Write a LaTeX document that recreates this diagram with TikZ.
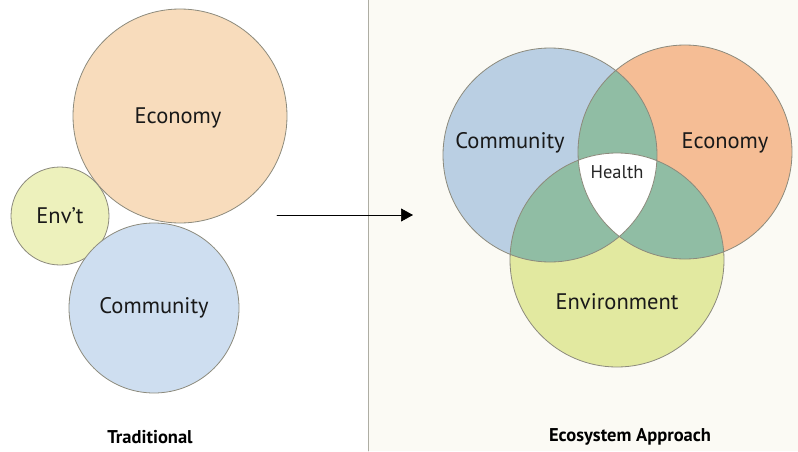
\documentclass[tikz,border=0pt]{standalone}
\usepackage{fontspec}
\setmainfont{PT Sans}
\usetikzlibrary{arrows.meta}
\definecolor{ecoL}{HTML}{F8DCBC}
\definecolor{envL}{HTML}{EDF1BC}
\definecolor{comL}{HTML}{CEDEF0}
\definecolor{comR}{HTML}{BACFE3}
\definecolor{ecoR}{HTML}{F5BD95}
\definecolor{envR}{HTML}{E2E9A0}
\definecolor{mixG}{HTML}{90BDA4}
\definecolor{rim}{HTML}{8C8A7C}
\definecolor{paper}{HTML}{FBFAF4}
\tikzset{
  ring/.style={draw=rim, line width=.8pt},
  lbl/.style={font=\fontsize{22.5}{24}\selectfont, text=black!90},
  caption/.style={font=\bfseries\fontsize{18.5}{20}\selectfont}
}
\begin{document}
\begin{tikzpicture}[x=1pt, y=1pt, >={Triangle[length=12pt,width=13pt]}, line join=round, line cap=round]
    \useasboundingbox (0,0) rectangle (798,451);
    \fill[paper] (368,0) rectangle (798,451);
    \draw[rim!70, line width=.6pt] (368,0)--(368,451);
    % Traditional
    \def\r{107}
    \filldraw[ring, fill=ecoL] (180,335) circle (\r);
    \filldraw[ring, fill=envL] (60,235) circle (49);
    \filldraw[ring, fill=comL] (154,143) circle (85);
    \node[lbl] (economyL) at (178,333) {Economy};
    \node[lbl] (envtL) at (60,235) {Env't};
    \node[lbl] (communityL) at (154,143) {Community};
    \node[caption] (traditional) at (150,14) {Traditional};
    % arrow
    \coordinate (from) at (277,236);
    \coordinate (to) at (413,236);
    \draw[->, line width=.7pt] (from)--(to);
    % Ecosystem approach
    \def\com{(550,296) circle (\r)}
    \def\eco{(685,299) circle (\r)}
    \def\env{(617,191) circle (\r)}
    \fill[comR] \com;
    \fill[ecoR] \eco;
    \fill[envR] \env;
    \begin{scope}
        \clip \com;
        \fill[mixG] \eco;
        \fill[mixG] \env;
    \end{scope}
    \begin{scope}
        \clip \eco;
        \fill[mixG] \env;
    \end{scope}
    \begin{scope}
        \clip \com; \clip \eco;
        \fill[white] \env;
    \end{scope}
    \draw[ring] \com \eco \env;
    \node[lbl] (community) at (510,308) {Community};
    \node[lbl] (economy) at (725,308) {Economy};
    \node[font=\fontsize{18.5}{20}\selectfont, text=black!85] (health) at (617,279) {Health};
    \node[lbl] (environment) at (617,149) {Environment};
    \node[caption] (approach) at (630,14) {Ecosystem Approach};
\end{tikzpicture}
\end{document}
